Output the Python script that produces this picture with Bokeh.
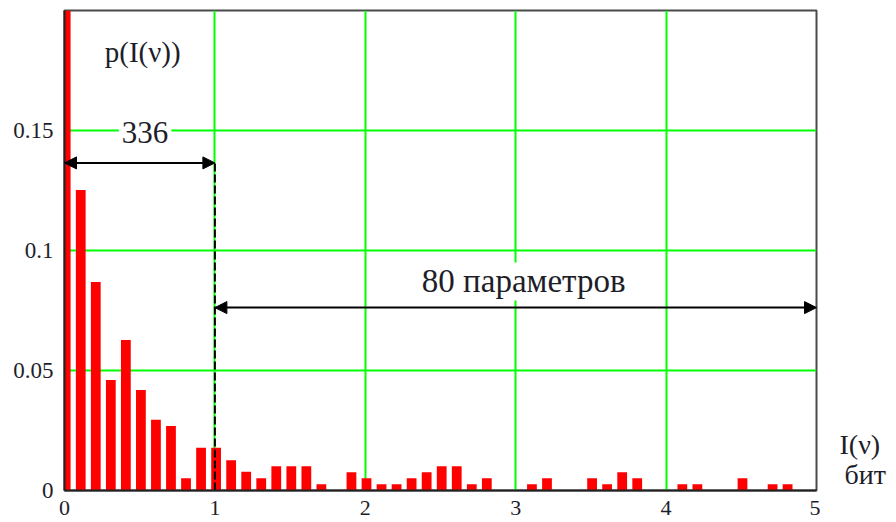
from bokeh.plotting import figure
from bokeh.layouts import row
from bokeh.models import Range1d, FixedTicker, Label, Arrow, NormalHead, ColumnDataSource
from bokeh.transform import dodge
from bokeh.embed import file_html
from bokeh.resources import INLINE

# ---- data ----
bin_x = [0.0, 0.1, 0.2, 0.3, 0.4, 0.5, 0.6, 0.7, 0.8, 0.9,
         1.0, 1.1, 1.2, 1.3, 1.4, 1.5, 1.6, 1.7, 1.8, 1.9,
         2.0, 2.1, 2.2, 2.3, 2.4, 2.5, 2.6, 2.7, 2.8, 2.9,
         3.0, 3.1, 3.2, 3.3, 3.4, 3.5, 3.6, 3.7, 3.8, 3.9,
         4.0, 4.1, 4.2, 4.3, 4.4, 4.5, 4.6, 4.7, 4.8, 4.9]
prob = [0.35, 0.1252, 0.0869, 0.0460, 0.0627, 0.0419, 0.0295, 0.0269, 0.0051, 0.0178,
        0.0178, 0.0126, 0.0078, 0.0051, 0.0101, 0.0101, 0.0101, 0.0026, 0.0, 0.0076,
        0.0051, 0.0026, 0.0026, 0.0051, 0.0076, 0.0101, 0.0101, 0.0026, 0.0051, 0.0,
        0.0, 0.0026, 0.0051, 0.0, 0.0, 0.0051, 0.0026, 0.0076, 0.0051, 0.0,
        0.0, 0.0026, 0.0026, 0.0, 0.0, 0.0051, 0.0, 0.0026, 0.0026, 0.0]

x_ticks = [0, 1, 2, 3, 4, 5]
x_tick_labels = ["0", "1", "2", "3", "4", "5"]
y_ticks = [0, 0.05, 0.1, 0.15]
y_tick_labels = ["0", "0.05", "0.1", "0.15"]

x_min, x_max = 0.0, 5.0
y_min, y_max = 0.0, 0.2
split_at = 1.0
left_arrow_y = 0.1365
right_arrow_y = 0.0762
left_count_text = "336"
right_count_text = "80 параметров"
y_title = "p(I(ν))"
x_title_1 = "I(ν)"
x_title_2 = "бит"

SERIF = "Liberation Serif"
TXT = "#1e1e2a"

src = ColumnDataSource(dict(x=bin_x, top=prob))

p = figure(width=820, height=522, output_backend="svg", toolbar_location=None,
           x_range=Range1d(x_min, x_max), y_range=Range1d(y_min, y_max),
           min_border_left=64, min_border_right=4, min_border_top=10, min_border_bottom=32)
p.background_fill_color = "white"
p.border_fill_color = "white"
p.outline_line_color = "#4a4a4a"
p.outline_line_width = 2

# grid
p.xgrid.ticker = FixedTicker(ticks=x_ticks)
p.ygrid.ticker = FixedTicker(ticks=y_ticks)
for g in (p.xgrid, p.ygrid):
    g.grid_line_color = "#00ff00"
    g.grid_line_width = 2

# axes
p.xaxis.ticker = FixedTicker(ticks=x_ticks)
p.yaxis.ticker = FixedTicker(ticks=y_ticks)
p.xaxis.major_label_overrides = {t: l for t, l in zip(x_ticks, x_tick_labels)}
p.yaxis.major_label_overrides = {t: l for t, l in zip(y_ticks, y_tick_labels)}
for ax in (p.xaxis[0], p.yaxis[0]):
    ax.axis_line_color = "#222222"
    ax.axis_line_width = 2
    ax.major_tick_line_color = None
    ax.minor_tick_line_color = None
    ax.major_tick_out = 0
    ax.major_tick_in = 0
    ax.major_label_text_font = SERIF
    ax.major_label_text_color = TXT
p.xaxis.major_label_text_font_size = "22px"
p.xaxis.major_label_standoff = 10
p.yaxis.major_label_text_font_size = "23px"
p.yaxis.major_label_standoff = 11

# bars
p.vbar(x=dodge("x", 0.008, range=p.x_range), top="top", bottom=0, width=0.065,
       source=src, fill_color="#ff0000", line_color=None)

# dashed boundary line
p.segment(x0=[split_at], y0=[y_min], x1=[split_at], y1=[left_arrow_y],
          line_color="black", line_width=2, line_dash="8 3")

# labels (white background cuts the grid lines like in the reference)
p.add_layout(Label(x=0.536, y=0.1491, text=left_count_text, text_align="center",
                   text_baseline="alphabetic", text_font=SERIF, text_font_size="31px",
                   text_color=TXT, background_fill_color="white", padding=3))
p.add_layout(Label(x=3.053, y=0.0871, text=right_count_text, text_align="center",
                   text_baseline="alphabetic", text_font=SERIF, text_font_size="33px",
                   text_color=TXT, background_fill_color="white", padding=1))
p.add_layout(Label(x=0.52, y=0.1826, text=y_title, text_align="center",
                   text_baseline="alphabetic", text_font=SERIF, text_font_size="29px",
                   text_color=TXT))

# arrows (drawn after the labels so they stay on top)
for xs, xe, yy in ((x_min, split_at, left_arrow_y), (split_at, x_max, right_arrow_y)):
    p.add_layout(Arrow(x_start=xs, y_start=yy, x_end=xe, y_end=yy,
                       line_color="black", line_width=2,
                       start=NormalHead(size=12, fill_color="black", line_color="black"),
                       end=NormalHead(size=12, fill_color="black", line_color="black")))

# side panel for the x-axis title (outside the plot frame), in pixel units
side = figure(width=74, height=522, output_backend="svg", toolbar_location=None,
              x_axis_type=None, y_axis_type=None,
              x_range=Range1d(0, 74), y_range=Range1d(0, 522),
              min_border_left=0, min_border_right=0, min_border_top=0, min_border_bottom=0)
side.outline_line_color = None
side.grid.visible = False
side.background_fill_color = "white"
side.border_fill_color = "white"
side.add_layout(Label(x=19, y=50, text=x_title_1, text_align="left",
                      text_baseline="alphabetic", text_font=SERIF, text_font_size="28px",
                      text_color=TXT))
side.add_layout(Label(x=24, y=17, text=x_title_2, text_align="left",
                      text_baseline="alphabetic", text_font=SERIF, text_font_size="28px",
                      text_color=TXT))

layout = row(p, side)
open("out.html", "w").write(file_html(layout, INLINE))
